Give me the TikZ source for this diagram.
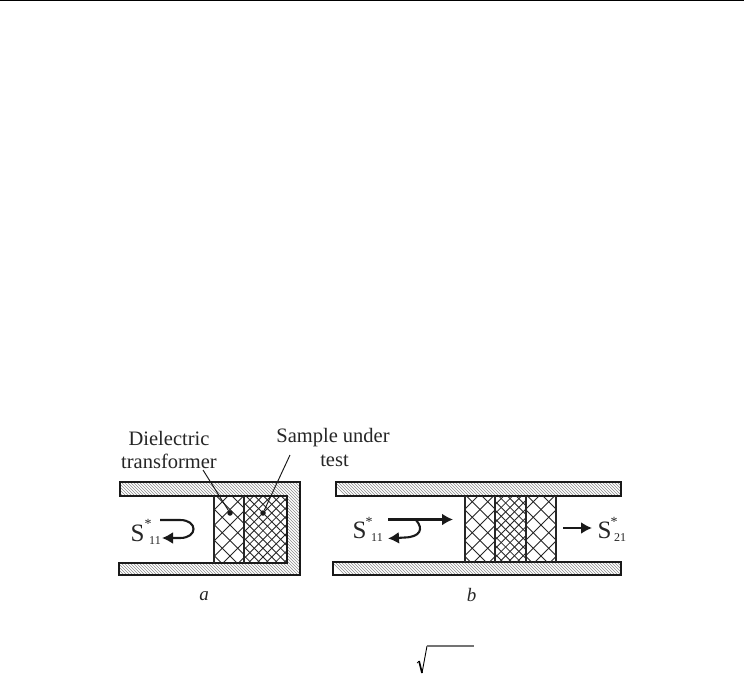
\documentclass[tikz,border=0pt]{standalone}
\usepackage{fontspec}
\setmainfont{Liberation Serif}
\usetikzlibrary{arrows.meta}
\tikzset{
  wall/.style={draw=black!90,line width=2.3pt},
  blockedge/.style={draw=black!85,line width=2pt},
  hatchline/.style={draw=black!45,line width=0.45pt},
  crossline/.style={draw=black!85,line width=0.85pt},
  lbl/.style={inner sep=0pt,font=\fontsize{20.5}{23}\selectfont,text=black!85},
  sym/.style={inner sep=0pt,font=\fontsize{25}{27}\selectfont,text=black!85},
  idx/.style={inner sep=0pt,font=\fontsize{12}{13}\selectfont,text=black!85},
  starmark/.style={inner sep=0pt,font=\fontsize{14}{15}\selectfont,text=black!85},
  captext/.style={inner sep=0pt,font=\itshape\fontsize{19}{20}\selectfont,text=black!85},
  flow/.style={draw=black!90,line width=2.1pt,-{Latex[length=11pt,width=12pt]}},
  leader/.style={draw=black!90,line width=0.95pt},
  dotmark/.style={circle,fill=black!90,inner sep=0pt,minimum size=5.5pt}
}
% \crosshatch{x1}{y1}{x2}{y2}{spacing}{crossing x}{crossing y}
\newcommand{\crosshatch}[7]{\begin{scope}
  \clip (#1,#2) rectangle (#3,#4);
  \foreach \n in {-14,...,14}{
    \draw[crossline] (#6+\n*#5-110,#7-110) -- ++(220,220);
    \draw[crossline] (#6+\n*#5+110,#7-110) -- ++(-220,220);
  }
  \end{scope}}
\begin{document}
\begin{tikzpicture}[x=1pt,y=-1pt]
\useasboundingbox (0,0) rectangle (744,674);
\fill[white] (0,0) rectangle (744,674);
\coordinate (ruleL) at (0,0.7);
\coordinate (ruleR) at (744,0.7);
\draw[line width=1.5pt] (ruleL) -- (ruleR);

% ---- panel a
\begin{scope}
  \clip (120,482) -- (300,482) -- (300,575) -- (119,575) -- (119,563) -- (287,563) -- (287,496) -- (120,496) -- cycle;
  \foreach \k in {-120,-117,...,300}{\draw[hatchline] (100+\k,470) -- ++(120,120);}
\end{scope}
\crosshatch{214}{496}{244}{563}{15.5}{230}{525}
\crosshatch{244}{496}{287}{563}{8.8}{263}{513}
\draw[wall] (120,482) -- (300,482) -- (300,575) -- (119,575) -- (119,563) -- (287,563) -- (287,496) -- (120,496) -- cycle;
\draw[blockedge] (214,496) -- (214,563);
\draw[blockedge] (244,496) -- (244,563);

\node[lbl] (dt1) at (169,438) {Dielectric};
\node[lbl] (dt2) at (169,461) {transformer};
\node[lbl] (sut1) at (333,438) {Sample under};
\node[lbl] (sut2) at (334.5,461) {test};
\node[dotmark] (dota) at (230,513) {};
\node[dotmark] (dotb) at (263,513) {};
\coordinate (leadA) at (203,470);
\coordinate (leadB) at (290,455);
\draw[leader] (leadA) -- (dota);
\draw[leader] (leadB) -- (dotb);

\node[sym] (sa) at (137.5,533) {S};
\node[starmark] (sastar) at (148,524) {*};
\node[idx] (saidx) at (155,541) {11};
\coordinate (fa0) at (160,520);
\coordinate (fa1) at (180,520);
\coordinate (fa2) at (180,538);
\coordinate (fa3) at (162,538);
\draw[flow] (fa0) -- (fa1) .. controls (198,520) and (198,538) .. (fa2) -- (fa3);
\node[captext] (capa) at (204,596) {a};

% ---- panel b
\begin{scope}
  \clip (336,482) rectangle (621,496);
  \foreach \k in {0,3,...,320}{\draw[hatchline] (320+\k,470) -- ++(40,40);}
\end{scope}
\begin{scope}
  \clip (333,562) rectangle (621,575);
  \foreach \k in {0,3,...,320}{\draw[hatchline] (320+\k,550) -- ++(40,40);}
\end{scope}
\draw[wall] (336,482) rectangle (621,496);
\draw[wall] (333,562) rectangle (621,575);
\crosshatch{465}{496}{495}{562}{15.5}{480}{525}
\crosshatch{495}{496}{526}{562}{8.8}{510}{525}
\crosshatch{526}{496}{556}{562}{15.5}{541}{525}
\draw[blockedge] (465,496) -- (465,562);
\draw[blockedge] (495,496) -- (495,562);
\draw[blockedge] (526,496) -- (526,562);
\draw[blockedge] (556,496) -- (556,562);

\node[sym] (sb) at (359.5,530) {S};
\node[starmark] (sbstar) at (369,522) {*};
\node[idx] (sbidx) at (377,538) {11};
\coordinate (fb0) at (388,519.5);
\coordinate (fb1) at (453,519.5);
\coordinate (fb2) at (416,520);
\coordinate (fb3) at (405,537.5);
\coordinate (fb4) at (388,538.5);
\draw[flow] (fb0) -- (fb1);
\draw[flow] (fb2) .. controls (424,529) and (420,537) .. (fb3) -- (fb4);
\coordinate (fc0) at (563,528);
\coordinate (fc1) at (592,528);
\draw[flow] (fc0) -- (fc1);
\node[sym] (sc) at (604.5,530) {S};
\node[starmark] (scstar) at (614,522) {*};
\node[idx] (scidx) at (620,538) {21};
\node[captext] (capb) at (471.5,595) {b};

% ---- radical
\coordinate (r0) at (417,663);
\coordinate (r1) at (419,661);
\coordinate (r2) at (422,673);
\coordinate (r3) at (427,646);
\coordinate (r4) at (474,646);
\draw[line width=0.7pt] (r0) -- (r1);
\draw[line width=1.7pt] (r1) -- (r2);
\draw[line width=0.9pt] (r2) -- (r3);
\draw[line width=1.1pt,black!55] (r3) -- (r4);
\end{tikzpicture}
\end{document}
